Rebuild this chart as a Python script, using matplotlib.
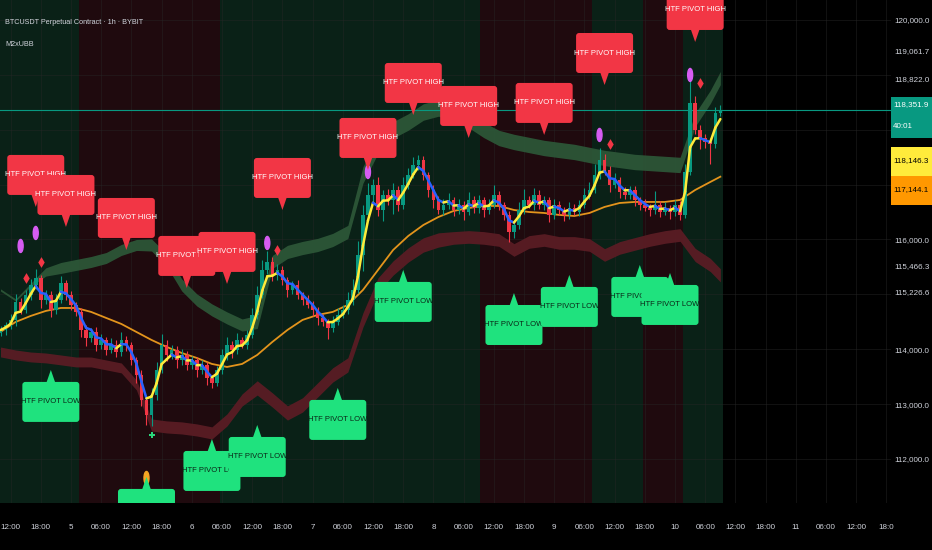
import matplotlib
matplotlib.use("Agg")
import matplotlib.pyplot as plt
import numpy as np
import pandas as pd
from matplotlib.collections import LineCollection
from matplotlib.patches import Rectangle, Polygon, FancyBboxPatch, Ellipse
from matplotlib.transforms import ScaledTranslation

plt.rcParams['font.family'] = ['Liberation Sans', 'DejaVu Sans']

# ---------------- data ----------------
title = "BTCUSDT Perpetual Contract · 1h · BYBIT"
indicator = "M2xUBB"

hours = list(range(10, 154))          # hours since Aug 4 00:00
first_open = 114300
closes = [
    114350, 114440, 114530, 114860, 114715, 114990, 115170, 115300, 114900, 114990,
    114715, 114900, 115210, 114990, 114810, 114680, 114350, 114205, 114320, 114080,
    114170, 113990, 114080, 113950, 114170, 114080, 113800, 113530, 113080, 112800,
    113170, 113620, 114080, 113900, 113990, 113800, 113900, 113715, 113800, 113620,
    113715, 113475, 113385, 113620, 113900, 114080, 113990, 114170, 114080, 114260,
    114625, 114990, 115445, 115590, 115350, 115445, 115260, 115080, 115170, 114990,
    114900, 114810, 114715, 114570, 114500, 114390, 114500, 114625, 114715, 114900,
    115080, 115720, 116450, 116810, 116990, 116540, 116810, 116720, 116900, 116630,
    116990, 117175, 117360, 117450, 117175, 116900, 116720, 116540, 116630, 116720,
    116540, 116630, 116500, 116720, 116575, 116720, 116540, 116630, 116810, 116630,
    116450, 116140, 116265, 116540, 116720, 116630, 116810, 116630, 116720, 116450,
    116630, 116540, 116450, 116575, 116500, 116630, 116810, 116900, 117175, 117450,
    117267, 116990, 117085, 116865, 116810, 116900, 116720, 116630, 116575, 116540,
    116630, 116500, 116575, 116500, 116630, 116450, 117230, 118490, 118000, 117850,
    117770, 117740, 118300, 118352,
]
upper_wick = [
    80, 60, 120, 150, 70, 90, 110, 160, 60, 90,
    70, 100, 130, 60, 80, 50, 70, 90, 60, 80,
    100, 60, 120, 80, 150, 70, 60, 50, 90, 60,
    120, 150, 200, 80, 90, 60, 100, 70, 80, 60,
    90, 50, 60, 80, 110, 150, 70, 120, 60, 90,
    130, 160, 180, 200, 90, 110, 70, 60, 80, 100,
    60, 90, 70, 50, 80, 60, 100, 120, 90, 150,
    200, 250, 180, 220, 120, 150, 90, 110, 130, 80,
    150, 120, 140, 90, 80, 60, 90, 70, 110, 120,
    60, 100, 80, 140, 70, 90, 60, 110, 180, 80,
    60, 70, 90, 150, 200, 80, 120, 90, 70, 60,
    110, 80, 60, 100, 70, 90, 120, 150, 200, 220,
    100, 80, 120, 60, 90, 80, 70, 60, 110, 80,
    250, 70, 100, 60, 90, 80, 150, 510, 120, 90,
    70, 80, 110, 90,
]
lower_wick = [
    60, 90, 70, 100, 80, 60, 90, 70, 150, 80,
    120, 70, 60, 100, 90, 80, 120, 150, 70, 110,
    80, 90, 60, 100, 70, 120, 90, 150, 110, 180,
    200, 100, 60, 120, 80, 150, 90, 100, 70, 130,
    80, 120, 90, 60, 70, 100, 150, 80, 60, 70,
    50, 80, 60, 70, 100, 80, 90, 120, 70, 80,
    90, 60, 110, 130, 80, 200, 70, 60, 50, 80,
    100, 60, 300, 80, 150, 120, 200, 90, 250, 120,
    80, 70, 60, 100, 90, 120, 150, 80, 100, 70,
    120, 80, 150, 60, 90, 100, 130, 70, 60, 90,
    100, 180, 120, 80, 70, 60, 100, 80, 90, 140,
    70, 90, 110, 80, 60, 70, 50, 80, 60, 70,
    90, 120, 60, 100, 80, 70, 110, 90, 60, 120,
    70, 90, 60, 120, 80, 100, 50, 60, 80, 200,
    100, 360, 70, 50,
]

band_hours = list(range(10, 152, 3)) + [153]
upper_mid = [
    115080, 114898, 115172, 115408, 115481, 115536, 115590, 115663, 115809, 115900,
    115900, 115627, 115172, 114898, 114716, 114570, 114442, 114497, 115590, 115773,
    115845, 115900, 115991, 116137, 117176, 117722, 117996, 118141, 118323, 118396,
    118323, 118178, 117996, 117850, 117777, 117722, 117667, 117631, 117595, 117540,
    117485, 117449, 117412, 117394, 117376, 117358, 118178, 118597, 118942,
]
upper_width = [40, 40, 60, 150] + [200] * 6 + [220] * 7 + [240] * 7 + [300] * 6 + [280] * 16 + [240] * 3
lower_mid = [
    113950, 113896, 113859, 113841, 113805, 113768, 113768, 113714, 113659, 113349,
    112620, 112584, 112566, 112529, 112475, 112712, 113076, 113295, 113076, 112839,
    112985, 113258, 113532, 113714, 114534, 115172, 115481, 115718, 115900, 115991,
    116028, 116046, 116028, 115991, 115809, 115955, 115991, 115937, 115937, 115900,
    115718, 115846, 115919, 115991, 116046, 116082, 115718, 115536, 115347,
]
lower_width = [180] * 10 + [220] * 7 + [260] * 7 + [260] * 6 + [230] * 16 + [240] * 3
slow_ma = [
    114315, 114497, 114607, 114698, 114752, 114752, 114680, 114570, 114461, 114315,
    114169, 114042, 113932, 113841, 113732, 113677, 113732, 113896, 114133, 114351,
    114534, 114625, 114680, 114807, 115080, 115445, 115809, 116064, 116264, 116410,
    116520, 116574, 116611, 116611, 116538, 116501, 116483, 116447, 116428, 116483,
    116593, 116665, 116684, 116684, 116684, 116720, 116902, 117048, 117144,
]

shade_start = [9.9, 25.6, 53.6, 105.2, 127.5, 137.6, 145.5]
shade_end = [25.6, 53.6, 105.2, 127.5, 137.6, 145.5, 153.5]
shade_kind = ['bull', 'bear', 'bull', 'bear', 'bull', 'bear', 'bull']

high_label_hours = [17, 23, 35, 47, 55, 66, 83, 92, 103, 118, 130, 148]
high_label_prices = [116593, 116228, 115809, 115117, 115190, 116538, 117267, 118269, 117850, 117905, 118815, 119599]
low_label_hours = [20, 39, 52, 61, 77, 90, 112, 123, 137, 143]
low_label_prices = [113623, 111673, 112365, 112620, 113295, 115445, 115025, 115354, 115536, 115390]

purple_hours = [14, 17, 63, 83, 129, 147]
purple_prices = [115882, 116119, 115937, 117230, 117905, 118998]
diamond_hours = [15, 18, 65, 131, 149]
diamond_prices = [115299, 115590, 115809, 117740, 118852]
orange_dot = (39, 111654)
green_plus = (40, 112438)

last_price = 118351.9
countdown = "40:01"
fast_value = 118146.3
slow_value = 117144.1
band_labels = ["119,061.7", "118,822.0", "115,466.3", "115,226.6"]

tick_hours = list(range(12, 187, 6))
tick_labels = ['12:00', '18:00', '5', '06:00', '12:00', '18:00', '6', '06:00', '12:00', '18:00',
               '7', '06:00', '12:00', '18:00', '8', '06:00', '12:00', '18:00', '9', '06:00',
               '12:00', '18:00', '10', '06:00', '12:00', '18:00', '11', '06:00', '12:00', '18:0']
price_ticks = list(range(112000, 120001, 1000))
price_tick_labels = ['112,000.0', '113,000.0', '114,000.0', '', '116,000.0', '', '', '', '120,000.0']

# ---------------- style ----------------
BG = '#000000'
TXT = '#d1d4dc'
UP = '#089981'
DN = '#f23645'
SHADE = {'bull': '#0a2117', 'bear': '#1f0a0e'}
AXFS = 5.8

W, H = 932, 550
fig = plt.figure(figsize=(W / 100, H / 100), dpi=100, facecolor=BG)
ax = fig.add_axes([0, 47 / H, 891 / W, 503 / H])
ax.set_facecolor(BG)
ax.set_xlim(9.9, 186.9)
ax.set_ylim(111198, 120364)
for s in ax.spines.values():
    s.set_visible(False)

for a, b, k in zip(shade_start, shade_end, shade_kind):
    ax.axvspan(a, b, color=SHADE[k], lw=0, zorder=0)

ax.set_xticks(tick_hours)
ax.set_xticklabels(tick_labels)
ax.yaxis.tick_right()
ax.set_yticks(price_ticks)
ax.set_yticklabels(price_tick_labels)
ax.tick_params(axis='x', length=0, pad=15, labelsize=AXFS, labelcolor=TXT)
ax.tick_params(axis='y', length=0, pad=2.5, labelsize=AXFS, labelcolor=TXT)
ax.grid(True, color='#262626', lw=0.6, alpha=0.55, zorder=0.5)
ax.set_axisbelow(True)

# bands
bh = np.array(band_hours)
um, uw = np.array(upper_mid), np.array(upper_width)
lm, lw_ = np.array(lower_mid), np.array(lower_width)
ax.fill_between(bh, um - uw / 2, um + uw / 2, color='#2c5637', alpha=0.95, lw=0, zorder=1)
ax.fill_between(bh, lm - lw_ / 2, lm + lw_ / 2, color='#5a1c24', alpha=0.95, lw=0, zorder=1)
ax.plot(bh, slow_ma, color='#e3941c', lw=1.3, zorder=2)

# candles
c = np.array(closes, float)
o = np.concatenate([[first_open], c[:-1]])
hi = np.maximum(o, c) + np.array(upper_wick)
lo = np.minimum(o, c) - np.array(lower_wick)
hx = np.array(hours, float)
cols = np.where(c >= o, UP, DN)
ax.vlines(hx, lo, hi, colors=cols, lw=0.8, zorder=3)
body = np.maximum(np.abs(c - o), 18)
ax.bar(hx, body, bottom=np.minimum(o, c), width=0.72, color=cols, lw=0, zorder=3)

# fast line (yellow rising / blue falling)
fast = pd.Series(c).ewm(span=3, adjust=False).mean().values
pts = np.column_stack([hx, fast])
segs = np.stack([pts[:-1], pts[1:]], axis=1)
seg_cols = ['#ffeb3b' if fast[i + 1] >= fast[i] else '#2962ff' for i in range(len(fast) - 1)]
ax.add_collection(LineCollection(segs, colors=seg_cols, linewidths=1.8, zorder=4, capstyle='round'))

# current price line
ax.axhline(last_price, color=UP, lw=0.8, zorder=2.5)

# markers
def px_trans(xh, yp):
    return ScaledTranslation(xh, yp, ax.transData)

for xh, yp in zip(purple_hours, purple_prices):
    ax.add_patch(Ellipse((0, 0), 5, 13, transform=px_trans(xh, yp), color='#d65cf2', zorder=5))
ax.scatter(diamond_hours, diamond_prices, marker='d', s=30, color=DN, zorder=5, lw=0)
ax.add_patch(Ellipse((0, 0), 5, 13, transform=px_trans(*orange_dot), color='#f5a623', zorder=5))
ax.scatter([green_plus[0]], [green_plus[1]], marker='P', s=22, color='#2bd67b', zorder=5, lw=0)

# pivot labels
BW, BHt, PTR = 57, 40, 12
def pivot_label(xh, yp, text, fc, tc, up):
    t = px_trans(xh, yp)
    sgn = 1 if up else -1
    y0 = PTR if up else -PTR - BHt
    ax.add_patch(FancyBboxPatch((-BW / 2, y0), BW, BHt, boxstyle='round,pad=0,rounding_size=3',
                                transform=t, fc=fc, ec='none', zorder=6))
    ax.add_patch(Polygon([(-4.5, sgn * (PTR + 1)), (4.5, sgn * (PTR + 1)), (0, 0)], closed=True,
                         transform=t, fc=fc, ec='none', zorder=6))
    ax.text(0, y0 + BHt / 2, text, transform=t, ha='center', va='center', fontsize=5.5,
            color=tc, zorder=6, clip_on=True)

for xh, yp in zip(high_label_hours, high_label_prices):
    pivot_label(xh, yp, 'HTF PIVOT HIGH', '#f23645', '#ffffff', True)
for xh, yp in zip(low_label_hours, low_label_prices):
    pivot_label(xh, yp, 'HTF PIVOT LOW', '#1fe27e', '#0a2416', False)

# right side value labels (figure pixel positions)
def fp(x, y):
    return x / W, 1 - y / H

for txt, ypx in zip(band_labels, [52, 80, 267, 293]):
    fig.text(*fp(894, ypx), txt, va='center', ha='left', fontsize=AXFS, color=TXT)

fig.add_artist(Rectangle(fp(891, 138), 41 / W, 41 / H, transform=fig.transFigure, color=UP, lw=0))
fig.text(*fp(893, 105), f"{last_price:,.1f}", va='center', ha='left', fontsize=AXFS, color='#ffffff')
fig.text(*fp(893, 126), countdown, va='center', ha='left', fontsize=AXFS, color='#ffffff')
fig.add_artist(Rectangle(fp(891, 176), 41 / W, 29 / H, transform=fig.transFigure, color='#ffeb3b', lw=0))
fig.text(*fp(893, 161), f"{fast_value:,.1f}", va='center', ha='left', fontsize=AXFS, color='#000000')
fig.add_artist(Rectangle(fp(891, 205), 41 / W, 29 / H, transform=fig.transFigure, color='#ff9800', lw=0))
fig.text(*fp(893, 190), f"{slow_value:,.1f}", va='center', ha='left', fontsize=AXFS, color='#000000')

fig.text(*fp(5, 23), title, va='center', ha='left', fontsize=5.2, color=TXT)
fig.text(*fp(5, 45), indicator, va='center', ha='left', fontsize=5.2, color=TXT)

fig.savefig('out.png', dpi=100, facecolor=BG)
